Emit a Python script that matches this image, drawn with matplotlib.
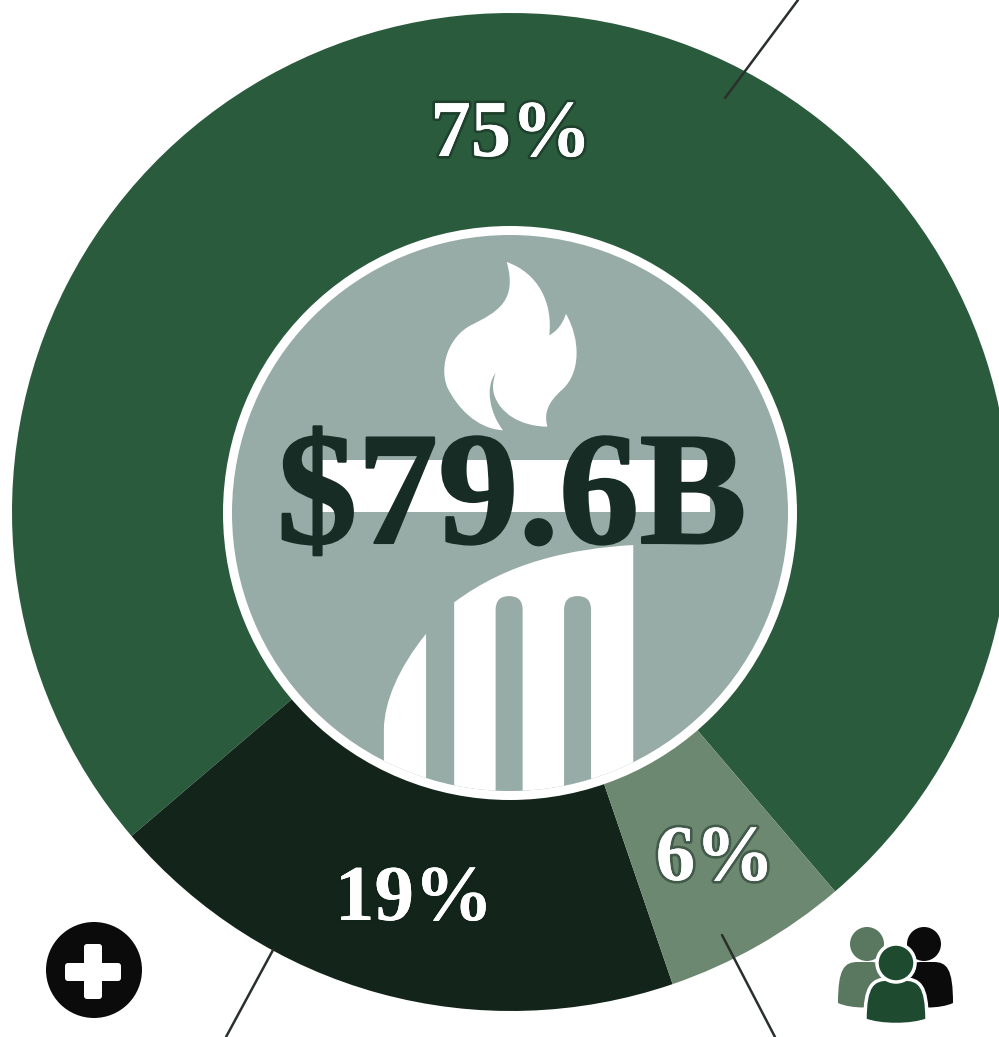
import matplotlib
matplotlib.use("Agg")
import matplotlib.pyplot as plt
import matplotlib.patheffects as pe
from matplotlib.path import Path
from matplotlib.patches import Circle, PathPatch, FancyBboxPatch, Rectangle

# data
shares = [75, 19, 6]
share_labels = ["75%", "19%", "6%"]
slice_colors = ["#2B5B3D", "#13251B", "#6C8870"]
total_label = "$79.6B"

W, H = 999, 1037
fig = plt.figure(figsize=(W / 100, H / 100), dpi=100, facecolor="white")
ax = fig.add_axes([0, 0, 1, 1])


def Y(y):
    return H - y


CX, CY, R = 511, 512, 499
ax.pie(shares, colors=slice_colors, startangle=310.5, center=(CX, Y(CY)), radius=R,
       wedgeprops=dict(linewidth=0), frame=False)
ax.set_xlim(0, W)
ax.set_ylim(0, H)
ax.set_aspect("equal")
ax.axis("off")

# leader lines
for (x0, y0), (x1, y1) in [((725, 98), (798, 0)), ((273, 950), (226, 1037)), ((722, 935), (775, 1037))]:
    ax.plot([x0, x1], [Y(y0), Y(y1)], color="#2A302B", lw=1.8, solid_capstyle="round", zorder=3)

# centre disc
ax.add_patch(Circle((510, Y(513)), 287, fc="white", ec="none", zorder=4))
disc = Circle((510, Y(513)), 278, fc="#97ACA6", ec="none", zorder=5)
ax.add_patch(disc)


def zx(x):
    return 220 + x / 2.703


def zy(y):
    return Y(225 + y / 2.703)


def zpath(verts, codes, fc="white", z=6, clip=None):
    p = PathPatch(Path([(zx(a), zy(b)) for a, b in verts], codes), fc=fc, ec="none", zorder=z)
    ax.add_patch(p)
    if clip is not None:
        p.set_clip_path(clip)
    return p


M, L, C3, CL = Path.MOVETO, Path.LINETO, Path.CURVE3, Path.CLOSEPOLY
C4 = Path.CURVE4

# flame
flame = [
    (775, 100),
    (860, 130), (900, 210), (890, 298),
    (925, 280), (935, 240), (935, 240),
    (975, 310), (975, 400), (925, 445),
    (885, 480), (875, 510), (885, 545),
    (815, 545), (755, 510), (740, 455),
    (735, 435), (740, 415), (745, 400),
    (715, 440), (730, 510), (765, 555),
    (690, 550), (640, 490), (615, 440),
    (590, 380), (620, 300), (680, 270),
    (750, 235), (805, 205), (775, 100),
    (775, 100),
]
zpath(flame, [M] + [C4] * 30 + [CL])

# white bar
ax.add_patch(Rectangle((zx(270), zy(775)), 1055 / 2.703, 140 / 2.703, fc="white", ec="none", zorder=6))

# column main shaft
zpath([(633, 1020), (780, 910), (950, 875), (1117, 865), (1117, 1600), (633, 1600), (633, 1020)],
      [M, C4, C4, C4, L, L, CL], clip=disc)
# column left piece
zpath([(557, 1105), (480, 1200), (445, 1290), (443, 1360), (443, 1600), (557, 1600), (557, 1105)],
      [M, C4, C4, C4, L, L, CL], clip=disc)
# flutes
for a, b in [(745, 818), (930, 1003)]:
    m = (a + b) / 2
    zpath([(a, 1040), (a, 1003), (m, 1003), (m, 1003), (b, 1003), (b, 1040), (b, 1600), (a, 1600), (a, 1040)],
          [M, C3, C3, L, C3, C3, L, L, CL], fc="#97ACA6", z=7, clip=disc)

# centre text
ax.text(512, Y(543), total_label, family="Liberation Serif", weight="bold", fontsize=116,
        color="#182C26", ha="center", va="baseline", zorder=9,
        path_effects=[pe.withStroke(linewidth=1.5, foreground="#182C26")])

# share labels
halo = [pe.withStroke(linewidth=4, foreground="#10231A", alpha=0.45), pe.Normal()]
for lab, x, y, fs in zip(share_labels, [511, 414, 715], [156, 920, 880], [58, 57, 57]):
    ax.text(x, Y(y), lab, family="Liberation Serif", weight="bold", fontsize=fs, color="white",
            ha="center", va="baseline", zorder=9, path_effects=halo)

# plus icon
ax.add_patch(Circle((94, Y(970)), 48, fc="#0B0B0B", ec="none", zorder=6))
ax.add_patch(FancyBboxPatch((68, Y(978)), 50, 12, boxstyle="round,pad=3,rounding_size=3",
                            fc="white", ec="none", zorder=7))
ax.add_patch(FancyBboxPatch((87, Y(996)), 12, 49, boxstyle="round,pad=3,rounding_size=3",
                            fc="white", ec="none", zorder=7))


# people icon
def body(x0, x1, top, bot, fc, z, edge=None):
    w = x1 - x0
    h = bot - top
    verts = [(x0, bot - 4),
             (x0, top + h * 0.15), (x0 + w * 0.12, top), (x0 + w * 0.38, top),
             (x1 - w * 0.38, top),
             (x1 - w * 0.12, top), (x1, top + h * 0.15), (x1, bot - 4),
             (x0 + w * 0.75, bot + 2), (x0 + w * 0.25, bot + 2), (x0, bot - 4), (x0, bot - 4)]
    codes = [M, C4, C4, C4, L, C4, C4, C4, C4, C4, C4, CL]
    ax.add_patch(PathPatch(Path([(a, Y(b)) for a, b in verts], codes), fc=fc,
                           ec=edge or "none", lw=2.5 if edge else 0, zorder=z))


body(838, 890, 962, 1007, "#5A7860", 6)
body(902, 953, 962, 1007, "#0B0B0B", 6)
ax.add_patch(Circle((867, Y(944)), 17, fc="#5A7860", ec="none", zorder=6))
ax.add_patch(Circle((924, Y(944)), 17, fc="#0B0B0B", ec="none", zorder=6))
body(865, 927, 979, 1024, "#1E4A30", 7, edge="white")
ax.add_patch(Circle((896, Y(963)), 19, fc="#1E4A30", ec="white", lw=2.5, zorder=7))

fig.savefig("out.png", dpi=100, facecolor="white")
